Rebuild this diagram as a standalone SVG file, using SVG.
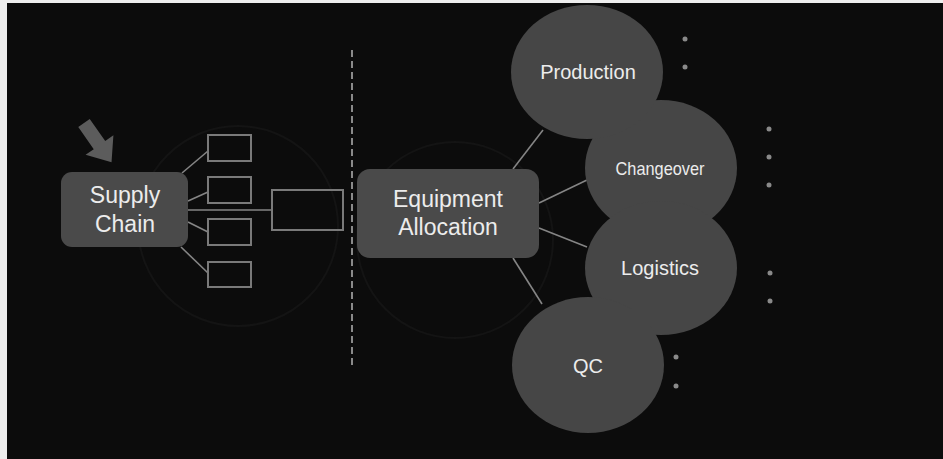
<svg xmlns="http://www.w3.org/2000/svg" width="943" height="459" viewBox="0 0 943 459">
  <style>
    .box { fill: #4a4a4a; }
    .bubble { fill: #464646; }
    .label { font-family: "Liberation Sans", Arial, sans-serif; fill: #ececec; text-anchor: middle; }
    .big { font-size: 23px; }
    .mid { font-size: 20px; }
    .slot { fill: none; stroke: #7a7a7a; stroke-width: 2; }
    .link { stroke: #858585; stroke-width: 1.6; fill: none; }
    .dot { fill: #8a8a8a; }
    .ghost { fill: none; stroke: #141414; stroke-width: 2; }
  </style>

  <!-- frame and backdrop -->
  <rect x="0" y="0" width="943" height="459" fill="#eeeeee"/>
  <rect x="7" y="3" width="936" height="456" fill="#0c0c0c"/>

  <!-- faint background rings -->
  <circle class="ghost" cx="238" cy="226" r="100"/>
  <circle class="ghost" cx="455" cy="240" r="98"/>

  <!-- divider -->
  <line x1="352" y1="50" x2="352" y2="366" stroke="#8a8a8a" stroke-width="2" stroke-dasharray="7 4"/>

  <!-- connectors -->
  <g id="connectors">
    <line class="link" x1="182" y1="173" x2="208" y2="151"/>
    <line class="link" x1="188" y1="201" x2="208" y2="192"/>
    <line class="link" x1="188" y1="210" x2="272" y2="210"/>
    <line class="link" x1="188" y1="222" x2="208" y2="232"/>
    <line class="link" x1="181" y1="247" x2="208" y2="273"/>
    <line class="link" x1="513" y1="169" x2="543" y2="130"/>
    <line class="link" x1="539" y1="203" x2="587" y2="180"/>
    <line class="link" x1="539" y1="228" x2="587" y2="247"/>
    <line class="link" x1="513" y1="258" x2="542" y2="304"/>
  </g>

  <!-- pointer arrow -->
  <g id="pointer">
    <polygon points="0,-7 27,-7 27,-17 48,0 27,17 27,7 0,7" fill="#5c5c5c" transform="translate(84,123) rotate(55)"/>
  </g>

  <g id="supply-chain">
    <rect class="box" x="61" y="172" width="127" height="75" rx="11"/>
    <text class="label big" x="125" y="203">Supply</text>
    <text class="label big" x="125" y="232">Chain</text>
  </g>

  <g id="slots">
    <rect class="slot" x="208" y="135" width="43" height="26"/>
    <rect class="slot" x="208" y="177" width="43" height="26"/>
    <rect class="slot" x="208" y="219" width="43" height="26"/>
    <rect class="slot" x="208" y="262" width="43" height="25"/>
    <rect class="slot" x="272" y="190" width="71" height="40"/>
  </g>

  <g id="equipment-allocation">
    <rect class="box" x="357" y="169" width="182" height="89" rx="13"/>
    <text class="label big" x="448" y="207">Equipment</text>
    <text class="label big" x="448" y="235">Allocation</text>
  </g>

  <g id="changeover">
    <ellipse class="bubble" cx="661" cy="168" rx="76" ry="68"/>
    <text class="label" x="660" y="175" font-size="19" textLength="89" lengthAdjust="spacingAndGlyphs">Changeover</text>
  </g>
  <g id="logistics">
    <ellipse class="bubble" cx="661" cy="268" rx="76" ry="67"/>
    <text class="label mid" x="660" y="275">Logistics</text>
  </g>
  <g id="production">
    <ellipse class="bubble" cx="587" cy="72" rx="76" ry="67"/>
    <text class="label mid" x="588" y="79">Production</text>
  </g>
  <g id="qc">
    <ellipse class="bubble" cx="588" cy="365" rx="76" ry="68"/>
    <text class="label mid" x="588" y="373">QC</text>
  </g>

  <!-- continuation dots -->
  <g id="dots">
    <circle class="dot" cx="685" cy="39" r="2.5"/>
    <circle class="dot" cx="685" cy="67" r="2.5"/>
    <circle class="dot" cx="769" cy="129" r="2.5"/>
    <circle class="dot" cx="769" cy="157" r="2.5"/>
    <circle class="dot" cx="769" cy="185" r="2.5"/>
    <circle class="dot" cx="770" cy="273" r="2.5"/>
    <circle class="dot" cx="770" cy="301" r="2.5"/>
    <circle class="dot" cx="676" cy="357" r="2.5"/>
    <circle class="dot" cx="676" cy="386" r="2.5"/>
  </g>
</svg>
